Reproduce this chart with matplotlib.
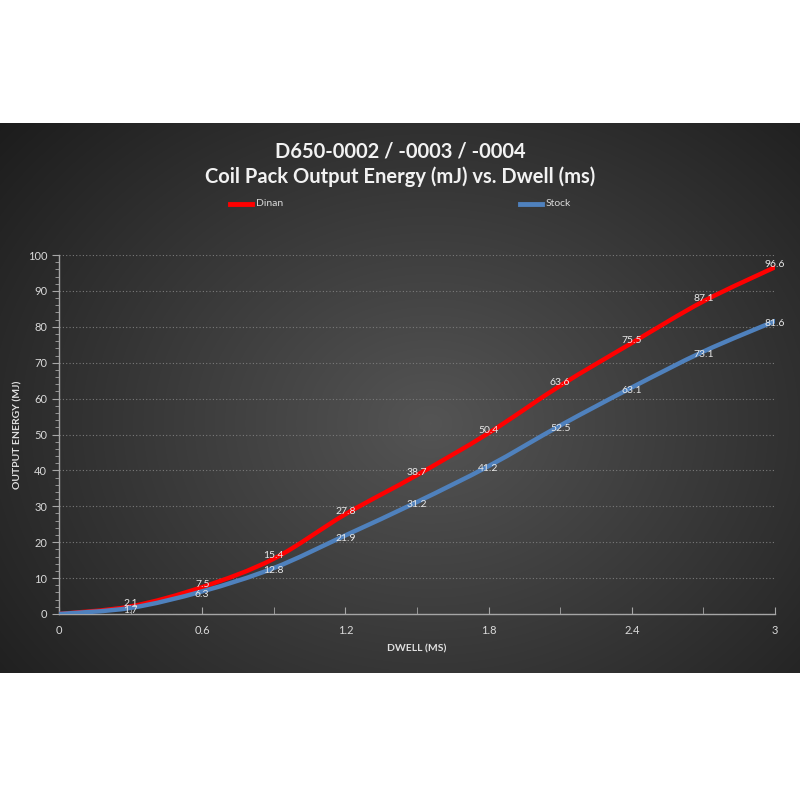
import matplotlib
matplotlib.use("Agg")
import matplotlib.pyplot as plt
from matplotlib.path import Path
from matplotlib.patches import PathPatch
from matplotlib.ticker import MultipleLocator
import numpy as np

# data
dwell = [0, 0.3, 0.6, 0.9, 1.2, 1.5, 1.8, 2.1, 2.4, 2.7, 3.0]
dinan = [0, 2.1, 7.5, 15.4, 27.8, 38.7, 50.4, 63.6, 75.5, 87.1, 96.6]
stock = [0, 1.7, 6.3, 12.8, 21.9, 31.2, 41.2, 52.5, 63.1, 73.1, 81.6]
series_names = ["Dinan", "Stock"]
series_colors = ["#ff0000", "#4f81bd"]

plt.rcParams['font.family'] = ['Lato', 'DejaVu Sans']

fig = plt.figure(figsize=(8, 8), dpi=100)
fig.patch.set_facecolor("white")

# dark panel with radial gradient
bg = fig.add_axes([0, 1 - 673 / 800, 1, 550 / 800])
bg.set_axis_off()
yy, xx = np.mgrid[0:550, 0:800]
r = np.sqrt(((xx - 430) / 520.0) ** 2 + ((yy - 300) / 420.0) ** 2)
shade = np.clip(0.33 - 0.2 * r, 0.11, 0.33)
bg.imshow(np.dstack([shade] * 3), aspect="auto", extent=[0, 1, 0, 1])
bg.set_xlim(0, 1)
bg.set_ylim(0, 1)

ax = fig.add_axes([59 / 800, 1 - 614 / 800, 716 / 800, 359 / 800])
ax.patch.set_alpha(0)


def smooth_path(xs, ys):
    # Catmull-Rom style bezier through the data points, like Excel's smoothed line
    pts = np.column_stack([xs, ys]).astype(float)
    verts = [pts[0]]
    codes = [Path.MOVETO]
    n = len(pts)
    for i in range(n - 1):
        p0 = pts[i - 1] if i > 0 else pts[i]
        p1 = pts[i]
        p2 = pts[i + 1]
        p3 = pts[i + 2] if i + 2 < n else pts[i + 1]
        c1 = p1 + (p2 - p0) / 6.0
        c2 = p2 - (p3 - p1) / 6.0
        verts += [c1, c2, p2]
        codes += [Path.CURVE4] * 3
    return Path(verts, codes)


for name, ys, col, dy in [(series_names[0], dinan, series_colors[0], 2),
                          (series_names[1], stock, series_colors[1], -2)]:
    patch = PathPatch(smooth_path(dwell, ys), facecolor="none", edgecolor=col,
                      lw=3.2, capstyle="round", joinstyle="round", zorder=3)
    ax.add_patch(patch)
    for xv, yv in zip(dwell[1:], ys[1:]):
        ax.annotate(f"{yv:g}", (xv, yv), xytext=(0, dy), textcoords="offset points",
                    color="#e8e8e8", fontsize=7.5, ha="center", va="center", zorder=5)

ax.set_xlim(0, 3)
ax.set_ylim(0, 100)
ax.xaxis.set_major_locator(MultipleLocator(0.6))
ax.xaxis.set_minor_locator(MultipleLocator(0.3))
ax.yaxis.set_major_locator(MultipleLocator(10))
ax.yaxis.set_minor_locator(MultipleLocator(2))
ax.set_xticks([0, 0.6, 1.2, 1.8, 2.4, 3.0])
ax.set_xticklabels(["0", "0.6", "1.2", "1.8", "2.4", "3"])

ax.grid(axis="y", which="major", color="#7a7a7a", linestyle=(0, (1, 2)), lw=0.8)
for s in ["top", "right"]:
    ax.spines[s].set_visible(False)
for s in ["left", "bottom"]:
    ax.spines[s].set_color("#a6a6a6")
    ax.spines[s].set_linewidth(1.0)
ax.tick_params(axis="both", which="both", colors="#a6a6a6", labelcolor="#d9d9d9",
               labelsize=8)
ax.tick_params(axis="y", which="major", direction="out", length=5)
ax.tick_params(axis="y", which="minor", direction="out", length=3)
ax.tick_params(axis="x", which="major", direction="in", length=5, pad=8)
ax.tick_params(axis="x", which="minor", direction="in", length=5)

ax.set_xlabel("DWELL (MS)", color="#e0e0e0", fontsize=7.5, fontweight="bold", labelpad=6)
ax.set_ylabel("OUTPUT ENERGY (MJ)", color="#e0e0e0", fontsize=7.5, fontweight="bold")
ax.yaxis.set_label_coords(-37 / 716, 0.5)

fig.text(0.5, 1 - 152 / 800, "D650-0002 / -0003 / -0004", ha="center", va="center",
         color="#f2f2f2", fontsize=14.5, fontweight="bold")
fig.text(0.5, 1 - 177 / 800, "Coil Pack Output Energy (mJ) vs. Dwell (ms)", ha="center",
         va="center", color="#f2f2f2", fontsize=14.5, fontweight="bold")

# legend
for lx, name, col in [(230, series_names[0], series_colors[0]),
                      (520, series_names[1], series_colors[1])]:
    fig.add_artist(plt.Line2D([lx / 800, (lx + 22) / 800], [1 - 204 / 800] * 2,
                              color=col, lw=3.5))
    fig.text((lx + 26) / 800, 1 - 204 / 800, name, color="#d9d9d9", fontsize=7.5,
             ha="left", va="center")

fig.savefig("out.png", dpi=100, facecolor="white")
